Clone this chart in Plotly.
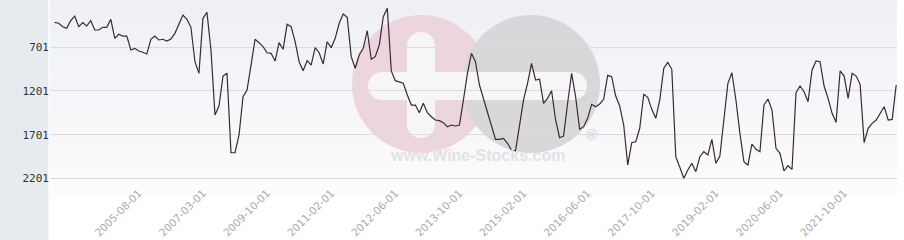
import plotly.graph_objects as go
import pandas as pd

# ---- categories (dates) ----
early_dates = (
    [d.strftime("%Y-%m-%d") for d in pd.date_range("2003-11-01", "2005-07-01", freq="MS")]
    + ["2005-08-01"]
    + ["2005-09-01", "2005-10-01", "2005-11-01", "2005-12-01",
       "2006-02-01", "2006-03-01", "2006-04-01", "2006-05-01",
       "2006-07-01", "2006-08-01", "2006-09-01", "2006-10-01",
       "2006-12-01", "2007-01-01", "2007-02-01"]
    + ["2007-03-01"]
    + ["2007-05-01", "2007-07-01", "2007-09-01", "2007-11-01",
       "2008-01-01", "2008-03-01", "2008-05-01", "2008-07-01",
       "2008-09-01", "2008-11-01", "2009-01-01", "2009-03-01",
       "2009-05-01", "2009-07-01", "2009-09-01"]
)
monthly_dates = [d.strftime("%Y-%m-%d") for d in pd.date_range("2009-10-01", "2022-11-01", freq="MS")]
dates = early_dates + monthly_dates

# ---- series values (rank) ----
rank_a = [415, 426, 465, 483, 396, 343, 465, 419, 457, 396, 503, 503, 472, 472, 380,
          598, 552, 572, 572, 732, 713, 743, 758, 778, 609, 572, 617, 609, 629, 606]
rank_b = [541, 434, 331, 380, 472, 866, 999, 369, 300, 732, 1476, 1373, 1030, 999, 1908,
          1908, 1705, 1267, 1190, 904, 609, 648, 694, 763, 770, 858, 648, 724, 438, 465]
rank_c = [637, 866, 969, 854, 904, 705, 763, 892, 637, 705, 598, 426, 320, 358, 808,
          941, 789, 713, 511, 838, 808, 675, 351, 254, 972, 1083, 1095, 1113, 1247, 1362]
rank_d = [1362, 1450, 1342, 1450, 1496, 1533, 1541, 1564, 1610, 1591, 1602, 1591, 1304, 999, 770,
          866, 1133, 1285, 1457, 1591, 1755, 1755, 1743, 1800, 1877, 1885, 1610, 1304, 1113, 885]
rank_e = [1075, 1067, 1342, 1285, 1198, 1533, 1736, 1717, 1342, 999, 1267, 1640, 1610, 1514, 1354,
          1381, 1350, 1296, 1022, 1038, 1259, 1373, 1591, 2049, 1793, 1782, 1628, 1239, 1273, 1411]
rank_f = [1514, 1304, 941, 873, 953, 1954, 2075, 2201, 2106, 2029, 2125, 1954, 1896, 1934, 1755,
          2029, 1946, 1514, 1113, 992, 1304, 1686, 2011, 2049, 1808, 1869, 1896, 1362, 1293, 1419]
rank_g = [1858, 1915, 2117, 2057, 2098, 1221, 1144, 1209, 1324, 961, 858, 866, 1144, 1285, 1457,
          1560, 972, 1030, 1285, 999, 1030, 1125, 1793, 1628, 1571, 1533, 1457, 1381, 1533, 1526, 1133]
ranks = rank_a + rank_b + rank_c + rank_d + rank_e + rank_f + rank_g

# ---- tick labels ----
x_ticks = ["2005-08-01", "2007-03-01", "2009-10-01", "2011-02-01", "2012-06-01", "2013-10-01",
           "2015-02-01", "2016-06-01", "2017-10-01", "2019-02-01", "2020-06-01", "2021-10-01"]
y_ticks = [701, 1201, 1701, 2201]

W, H = 904, 240
ML, MR, MT, MB = 50, 7, 0, 56
PW, PH = W - ML - MR, H - MT - MB


def px_x(p):
    return (p - ML) / PW


def px_y(p):
    return 1 - (p - MT) / PH


shapes = []
# left grey panel
shapes.append(dict(type="rect", xref="paper", yref="paper", x0=px_x(0), x1=px_x(48.5),
                   y0=px_y(H), y1=px_y(0), fillcolor="#e8ebee", line_width=0, layer="below"))
# gradient background bands (0 .. 198 px)
nb = 14
top = (239, 240, 246)
bot = (252, 252, 253)
for i in range(nb):
    t = i / (nb - 1)
    c = tuple(int(round(top[k] + (bot[k] - top[k]) * t)) for k in range(3))
    shapes.append(dict(type="rect", xref="paper", yref="paper", x0=0, x1=1,
                       y0=px_y(198 * (i + 1) / nb), y1=px_y(198 * i / nb),
                       fillcolor="rgb(%d,%d,%d)" % c, line_width=0, layer="below"))


def circ(cx, cy, r, color):
    return dict(type="circle", xref="paper", yref="paper",
                x0=px_x(cx - r), x1=px_x(cx + r), y0=px_y(cy + r), y1=px_y(cy - r),
                fillcolor=color, line_width=0, layer="below")


def rect(x0, x1, y0, y1, color):
    return dict(type="rect", xref="paper", yref="paper",
                x0=px_x(x0), x1=px_x(x1), y0=px_y(y1), y1=px_y(y0),
                fillcolor=color, line_width=0, layer="below")


# watermark
shapes.append(circ(421, 84, 69, "rgb(236,213,220)"))
shapes.append(circ(531, 84, 69, "rgb(216,216,219)"))
wc = "rgb(246,246,249)"
shapes.append(rect(382, 573, 72, 100, wc))
shapes.append(circ(382, 86, 14, wc))
shapes.append(circ(573, 86, 14, wc))
shapes.append(rect(407, 435, 46, 124, wc))
shapes.append(circ(421, 46, 14, wc))
shapes.append(circ(421, 124, 14, wc))

annotations = [
    dict(text="<b>www.Wine-Stocks.com</b>", xref="paper", yref="paper", x=px_x(477), y=px_y(166),
         showarrow=False, font=dict(family="Liberation Sans, Arial", size=16, color="#e2e2e5")),
    dict(text="<b>®</b>", xref="paper", yref="paper", x=px_x(591), y=px_y(145),
         showarrow=False, font=dict(family="Liberation Sans, Arial", size=15, color="#d6d6d9")),
]

fig = go.Figure()
fig.add_trace(go.Scatter(x=dates, y=ranks, mode="lines",
                         line=dict(color="#3b2833", width=1.2), hoverinfo="x+y"))

fig.update_layout(
    width=W, height=H,
    margin=dict(l=ML, r=MR, t=MT, b=MB, pad=0, autoexpand=False),
    paper_bgcolor="white", plot_bgcolor="#f5f6f9",
    showlegend=False,
    shapes=shapes, annotations=annotations,
    xaxis=dict(type="category", range=[-1.17, 210.2], tickmode="array",
               tickvals=x_ticks, ticktext=x_ticks, tickangle=-45, automargin=False,
               showgrid=False, zeroline=False, showline=False, ticks="",
               tickfont=dict(family="DejaVu Sans", size=10.5, color="#aaaaaa")),
    yaxis=dict(range=[2266, 159.4], tickmode="array", tickvals=y_ticks, automargin=False,
               ticktext=[str(v) for v in y_ticks],
               showgrid=True, gridcolor="#dcdce0", gridwidth=1,
               zeroline=False, showline=False, ticks="",
               tickfont=dict(family="DejaVu Sans Mono", size=11, color="#333333")),
)

fig.write_html("out.html")
